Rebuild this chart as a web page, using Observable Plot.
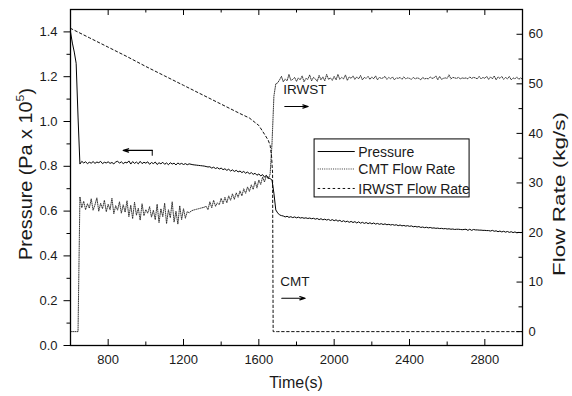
<!DOCTYPE html>
<html>
<head>
<meta charset="utf-8">
<script src="https://cdn.jsdelivr.net/npm/d3@7"></script>
<script src="https://cdn.jsdelivr.net/npm/@observablehq/plot@0.6"></script>
<style>
  body { margin: 0; background: #fff; }
  #chart svg { display: block; }
</style>
</head>
<body>
<div id="chart"></div>
<script>
// ---- sampling convention: values every 10 s starting at 600 s ----
const timeStart = 600;
const timeStep = 10;

// Pressure (Pa x 10^5), 600 s .. 3000 s
const pressure = [
  1.40,1.35,1.31,1.26,1.02,0.81,0.822,0.815,0.820,0.812,
  0.818,0.814,0.821,0.813,0.819,0.816,0.822,0.812,0.818,0.815,
  0.820,0.813,0.817,0.811,0.819,0.823,0.814,0.820,0.812,0.818,
  0.815,0.824,0.810,0.821,0.813,0.819,0.811,0.822,0.812,0.818,
  0.814,0.820,0.809,0.817,0.812,0.819,0.808,0.816,0.811,0.818,
  0.809,0.815,0.807,0.816,0.810,0.814,0.806,0.815,0.809,0.813,
  0.808,0.812,0.807,0.811,0.809,0.807,0.806,0.805,0.804,0.803,
  0.802,0.801,0.799,0.797,0.798,0.792,0.796,0.790,0.794,0.788,
  0.792,0.785,0.789,0.782,0.787,0.779,0.784,0.777,0.782,0.775,
  0.779,0.772,0.777,0.769,0.775,0.766,0.772,0.764,0.769,0.760,
  0.766,0.757,0.763,0.752,0.759,0.749,0.745,0.738,0.680,0.605,
  0.592,0.583,0.580,0.578,0.574,0.577,0.572,0.575,0.571,0.574,
  0.570,0.573,0.569,0.571,0.568,0.570,0.567,0.569,0.566,0.568,
  0.564,0.567,0.562,0.566,0.561,0.564,0.560,0.563,0.558,0.562,
  0.557,0.561,0.555,0.559,0.553,0.557,0.552,0.555,0.550,0.554,
  0.549,0.553,0.547,0.552,0.546,0.550,0.545,0.549,0.544,0.548,
  0.543,0.547,0.542,0.545,0.541,0.544,0.540,0.543,0.539,0.541,
  0.538,0.540,0.537,0.539,0.535,0.538,0.534,0.536,0.533,0.535,
  0.532,0.534,0.530,0.532,0.529,0.531,0.527,0.529,0.526,0.528,
  0.525,0.527,0.524,0.525,0.523,0.524,0.522,0.523,0.521,0.522,
  0.520,0.521,0.519,0.520,0.518,0.519,0.519,0.518,0.517,0.518,
  0.519,0.514,0.519,0.514,0.518,0.516,0.516,0.515,0.515,0.514,
  0.514,0.513,0.513,0.511,0.514,0.510,0.512,0.508,0.511,0.507,
  0.510,0.506,0.509,0.505,0.508,0.504,0.507,0.503,0.505,0.504,
  0.505
];

// CMT flow rate (kg/s), 600 s .. 3000 s
const cmtFlow = [
  0,0,0,0,0,27.2,25.0,26.3,24.6,25.8,
  24.9,26.8,24.5,25.6,27.0,24.3,25.9,24.8,26.5,24.2,
  25.7,24.6,26.9,23.8,25.4,24.5,26.2,23.9,25.6,24.1,
  26.4,23.2,25.5,22.8,26.1,23.5,24.9,22.5,25.8,23.4,
  24.6,23.9,25.2,23.1,24.5,22.6,25.7,22.0,24.8,23.2,
  25.9,21.8,24.6,23.0,26.2,22.1,24.3,21.7,25.4,22.6,
  24.8,22.9,24.2,24.0,24.3,24.5,24.6,24.7,24.8,24.9,
  25.0,25.1,25.3,24.6,26.2,25.0,26.5,25.3,26.0,25.6,
  26.9,25.8,27.1,26.0,27.4,26.5,27.8,26.7,28.0,27.1,
  28.4,27.4,28.8,27.9,29.2,28.3,29.6,28.7,30.3,29.0,
  30.6,29.7,31.2,30.2,31.5,30.8,31.8,38.0,47.5,50.0,
  50.2,50.8,51.5,50.4,51.0,50.6,51.9,50.7,50.9,51.3,
  50.5,51.2,50.8,51.6,50.4,51.1,50.9,51.8,50.6,51.3,
  51.0,50.5,51.7,50.8,51.4,50.6,51.9,50.9,51.2,50.7,
  51.5,50.8,51.9,50.9,51.3,51.0,51.8,50.7,51.4,51.1,
  51.6,50.9,51.4,51.0,51.7,50.8,51.3,51.1,51.5,50.9,
  51.4,51.0,51.6,50.8,51.3,51.1,51.2,51.5,50.9,51.3,
  51.0,51.4,50.8,51.2,51.1,51.3,50.9,51.4,51.0,51.2,
  51.1,50.9,51.3,51.0,51.2,51.1,50.8,51.3,51.0,51.1,
  51.0,51.4,51.1,51.2,51.6,50.8,51.5,50.9,51.1,51.2,
  51.1,51.8,51.0,51.3,51.2,51.1,51.3,51.0,51.2,51.1,
  51.2,51.0,51.4,51.1,51.3,51.2,51.0,51.5,51.0,51.3,
  51.1,51.5,50.9,51.4,51.0,51.6,50.8,51.4,51.1,51.5,
  50.9,51.3,51.0,51.5,50.8,51.2,51.0,51.4,50.9,51.2,
  50.9
];

// IRWST flow rate (kg/s)
const irwstTime = [600, 700, 800, 900, 1000, 1100, 1200, 1300, 1400, 1500, 1550, 1600, 1634, 1650, 1660, 1668, 1673, 1676, 1700, 2000, 2500, 3000];
const irwstFlow = [61.2, 59.3, 57.4, 55.5, 53.5, 51.6, 49.7, 47.8, 45.9, 44.0, 43.1, 41.6, 39.6, 38.6, 37.6, 35.2, 32.0, 0, 0, 0, 0, 0];

// axis ticks
const timeTicks = [800, 1200, 1600, 2000, 2400, 2800];
const timeMinorTicks = [1000, 1400, 1800, 2200, 2600];
const pressureTicks = [0, 0.2, 0.4, 0.6, 0.8, 1.0, 1.2, 1.4];
const pressureMinorTicks = [0.1, 0.3, 0.5, 0.7, 0.9, 1.1, 1.3];
const flowTicks = [0, 10, 20, 30, 40, 50, 60];
const flowMinorTicks = [5, 15, 25, 35, 45, 55];

const legendLabels = ["Pressure", "CMT Flow Rate", "IRWST Flow Rate"];
const annotationLabels = ["IRWST", "CMT"];

// ---- dual axis mapping (flow -> pressure units) ----
const pMax = 1.5, fMin = -2.8, fMax = 65;
const toP = f => (f - fMin) * pMax / (fMax - fMin);
const fromP = p => p * (fMax - fMin) / pMax + fMin;

const pressureData = pressure.map((v, i) => ({t: timeStart + i * timeStep, p: v}));
const cmtData = cmtFlow.map((v, i) => ({t: timeStart + i * timeStep, p: toP(v)}));
const irwstData = irwstTime.map((t, i) => ({t, p: toP(irwstFlow[i])}));

const W = 572, H = 396, ML = 70, MR = 50, MT = 9, MB = 51;
const FW = W - ML - MR, FH = H - MT - MB;
const ink = "#1a1a1a";

const chart = Plot.plot({
  width: W, height: H,
  marginLeft: ML, marginRight: MR, marginTop: MT, marginBottom: MB,
  style: {fontFamily: "'Liberation Sans', Arial, sans-serif", fontSize: "13px", color: ink, background: "#fff"},
  x: {domain: [600, 3000]},
  y: {domain: [0, pMax]},
  marks: [
    // series
    Plot.line(cmtData, {x: "t", y: "p", stroke: "#222", strokeWidth: 0.9, strokeDasharray: "1 1.2"}),
    Plot.line(irwstData, {x: "t", y: "p", stroke: "#111", strokeWidth: 1, strokeDasharray: "2.5 2.5"}),
    Plot.line(pressureData, {x: "t", y: "p", stroke: "#000", strokeWidth: 1}),
    // frame
    Plot.frame({stroke: "#000", strokeWidth: 1.3}),
    // axes labels
    Plot.axisX({ticks: timeTicks, tickFormat: d => String(d), tickSize: 0, tickPadding: 9, label: null, fill: ink}),
    Plot.axisY({ticks: pressureTicks, tickFormat: d3.format(".1f"), tickSize: 0, tickPadding: 13, label: null, fill: ink}),
    Plot.axisY({anchor: "right", ticks: flowTicks.map(toP), tickFormat: p => String(Math.round(fromP(p))), tickSize: 0, tickPadding: 6, label: null, fill: ink}),
    // tick marks: bottom & top inward
    Plot.tickX(timeTicks, {x: d => d, insetTop: FH - 6, stroke: "#000"}),
    Plot.tickX(timeMinorTicks, {x: d => d, insetTop: FH - 3.5, stroke: "#000"}),
    Plot.tickX(timeTicks, {x: d => d, insetBottom: FH - 6, stroke: "#000"}),
    Plot.tickX(timeMinorTicks, {x: d => d, insetBottom: FH - 3.5, stroke: "#000"}),
    // left outward
    Plot.tickY(pressureTicks, {y: d => d, insetLeft: -6.5, insetRight: FW, stroke: "#000"}),
    Plot.tickY(pressureMinorTicks, {y: d => d, insetLeft: -3.5, insetRight: FW, stroke: "#000"}),
    // right inward
    Plot.tickY(flowTicks, {y: d => toP(d), insetLeft: FW - 5.5, stroke: "#000"}),
    Plot.tickY(flowMinorTicks, {y: d => toP(d), insetLeft: FW - 3.5, stroke: "#000"}),
    // annotations
    Plot.arrow([0], {x1: () => 1034, y1: () => 0.871, x2: () => 880, y2: () => 0.871, stroke: "#000", strokeWidth: 1.2, headAngle: 35, headLength: 7}),
    Plot.ruleX([1034], {y1: 0.845, y2: 0.871, stroke: "#000", strokeWidth: 1}),
    Plot.text([annotationLabels[0]], {x: () => 1730, y: () => 1.143, text: d => d, textAnchor: "start", fontSize: 13.5, fill: ink}),
    Plot.arrow([0], {x1: () => 1738, y1: () => 1.067, x2: () => 1862, y2: () => 1.067, stroke: "#000", strokeWidth: 1.2, headAngle: 35, headLength: 7}),
    Plot.text([annotationLabels[1]], {x: () => 1714, y: () => 0.283, text: d => d, textAnchor: "start", fontSize: 13.5, fill: ink}),
    Plot.arrow([0], {x1: () => 1722, y1: () => 0.211, x2: () => 1846, y2: () => 0.211, stroke: "#000", strokeWidth: 1.2, headAngle: 35, headLength: 7}),
    // legend
    Plot.rect([0], {x1: () => 1896, x2: () => 2719, y1: () => 0.661, y2: () => 0.920, fill: "#fff", stroke: "#000", strokeWidth: 1}),
    Plot.ruleY([0.866], {x1: 1915, x2: 2112, stroke: "#000", strokeWidth: 1}),
    Plot.ruleY([0.788], {x1: 1915, x2: 2112, stroke: "#222", strokeWidth: 0.9, strokeDasharray: "1 1.2"}),
    Plot.ruleY([0.701], {x1: 1915, x2: 2112, stroke: "#111", strokeWidth: 1, strokeDasharray: "2.5 2.5"}),
    Plot.text(legendLabels, {x: () => 2128, y: (d, i) => [0.862, 0.784, 0.697][i], text: d => d, textAnchor: "start", fontSize: 14, fill: ink})
  ]
});

document.getElementById("chart").appendChild(chart);

// axis titles
const svg = d3.select(chart);
const ff = "'Liberation Sans', Arial, sans-serif";
svg.append("text")
  .attr("x", 296).attr("y", 388)
  .attr("text-anchor", "middle")
  .attr("font-family", ff).attr("font-size", 16).attr("fill", ink)
  .text("Time(s)");

const lt = svg.append("text")
  .attr("transform", "translate(31.5,174) rotate(-90)")
  .attr("text-anchor", "middle")
  .attr("font-family", ff).attr("font-size", 18.5).attr("fill", ink)
  .attr("textLength", 172).attr("lengthAdjust", "spacingAndGlyphs");
lt.append("tspan").text("Pressure (Pa x 10");
lt.append("tspan").attr("font-size", 11.5).attr("dy", -8).text("5");
lt.append("tspan").attr("dy", 8).text(")");

svg.append("text")
  .attr("transform", "translate(565,194) rotate(-90)")
  .attr("text-anchor", "middle")
  .attr("font-family", ff).attr("font-size", 17).attr("fill", ink)
  .attr("textLength", 164).attr("lengthAdjust", "spacingAndGlyphs")
  .text("Flow Rate (kg/s)");
</script>
</body>
</html>
